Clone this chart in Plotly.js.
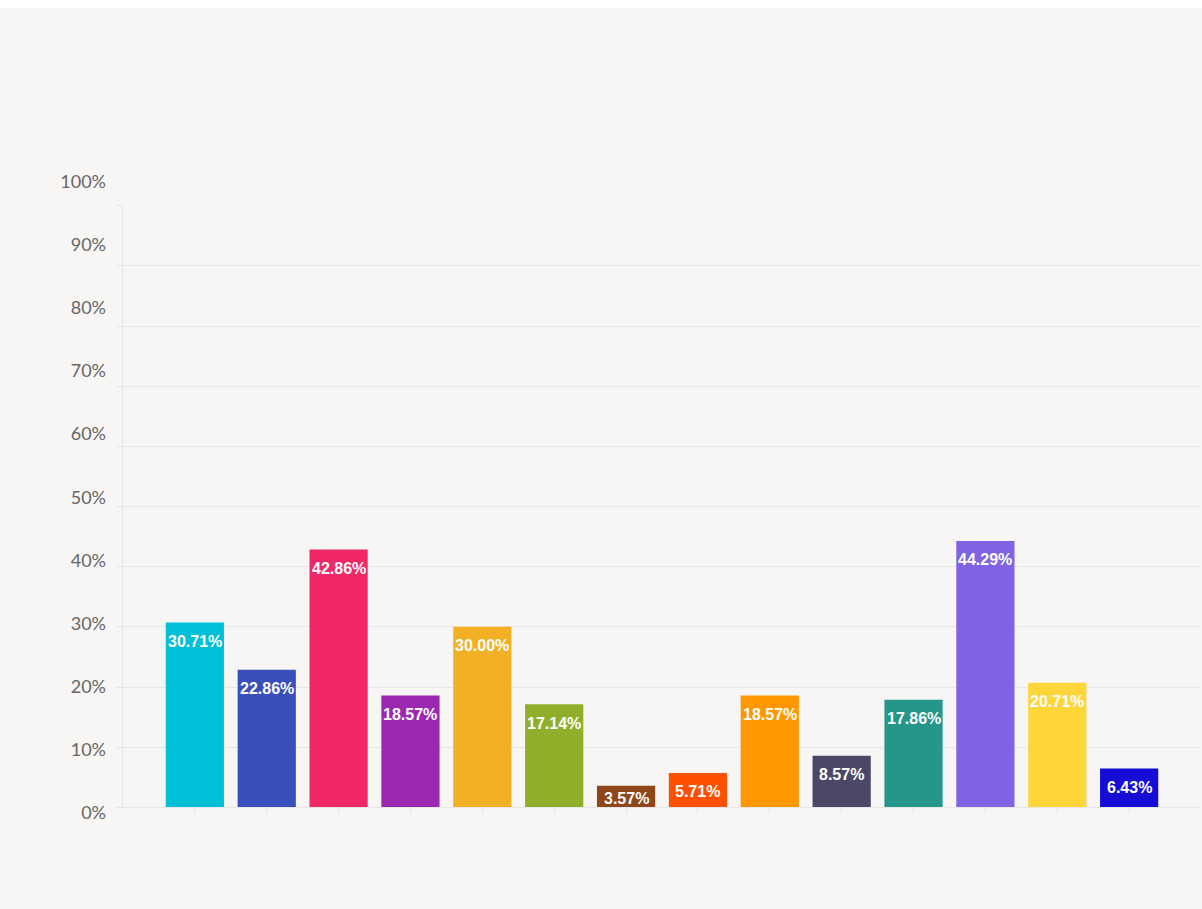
<!DOCTYPE html>
<html>
<head>
<meta charset="utf-8">
<script src="https://cdn.plot.ly/plotly-3.0.1.min.js"></script>
<style>
  html, body { margin: 0; padding: 0; background: #ffffff; }
  #chart { margin-top: 8px; width: 1202px; height: 901px; }
</style>
</head>
<body>
<div id="chart"></div>
<script>
// ---- data ----
const categories = ["1","2","3","4","5","6","7","8","9","10","11","12","13","14"];
const values = [30.71, 22.86, 42.86, 18.57, 30.00, 17.14, 3.57, 5.71, 18.57, 8.57, 17.86, 44.29, 20.71, 6.43];
const barColors = ["#00c0d8","#3b4fbc","#f02866","#9c27b0","#f2b124","#8faf2a","#8e461a","#ff5000","#ff9800","#4a4866","#26968a","#8062e3","#ffd63a","#150dd6"];
const yTickValues = [0,10,20,30,40,50,60,70,80,90,100];
const yTickLabels = ["0%","10%","20%","30%","40%","50%","60%","70%","80%","90%","100%"];

// ---- layout geometry ----
const DIV_H = 901, MT = 170, MB = 91;
const plotH = DIV_H - MT - MB;       // 640
const plotBottom = DIV_H - MB;       // 810 (div coords)
const zeroPx = 799.3, hundredPx = 197.8;       // grid positions
const lab0Px = 804.7, lab100Px = 173.7;        // label positions
const d0 = (plotBottom - zeroPx) / plotH, d1 = (plotBottom - hundredPx) / plotH;
const R2 = 100 * plotH / (lab0Px - lab100Px);
const r0 = -(plotBottom - lab0Px) * R2 / plotH;
const pxPerUnit = (zeroPx - hundredPx) / 100;

const grid = "#e8e7e5";

// annotation x on a category axis is the category index
const annotations = values.map((v, i) => {
  const hpx = v * pxPerUnit;
  const off = Math.min(19, hpx - 9);
  return {
    x: categories.indexOf(categories[i]), y: v, xref: "x", yref: "y",
    text: "<b>" + v.toFixed(2) + "%</b>",
    showarrow: false, yanchor: "middle", xanchor: "center",
    yshift: -off,
    font: { family: "Liberation Sans, Arial, sans-serif", size: 16, color: "#ffffff" }
  };
});

const data = [
  {
    type: "bar", x: categories, y: values,
    marker: { color: barColors, line: { width: 0 } },
    hoverinfo: "none", showlegend: false
  },
  { type: "scatter", x: [], y: [], yaxis: "y2", hoverinfo: "skip", showlegend: false }
];

const layout = {
  width: 1202, height: DIV_H,
  margin: { l: 123, r: 1, t: MT, b: MB, pad: 0 },
  paper_bgcolor: "#f7f6f4",
  plot_bgcolor: "rgba(0,0,0,0)",
  bargap: 0.19,
  showlegend: false,
  xaxis: {
    type: "category", range: [-1, 14],
    showticklabels: false, showgrid: false, zeroline: false,
    showline: true, linecolor: grid, linewidth: 1,
    ticks: "outside", ticklen: 5, tickcolor: grid, tickwidth: 1,
    anchor: "y", fixedrange: true
  },
  yaxis: {
    domain: [d0, d1], range: [0, 100],
    tickvals: yTickValues, showticklabels: false,
    showgrid: true, gridcolor: grid, gridwidth: 1, zeroline: false,
    showline: true, linecolor: grid, linewidth: 1,
    ticks: "outside", ticklen: 6, tickcolor: grid,
    anchor: "x", fixedrange: true
  },
  yaxis2: {
    domain: [0, 1], range: [r0, r0 + R2], anchor: "x",
    tickvals: yTickValues, ticktext: yTickLabels,
    showgrid: false, zeroline: false, showline: false, ticks: "",
    ticklabelstandoff: 16,
    tickfont: { family: "Lato, 'Open Sans', sans-serif", size: 18, color: "#666666" },
    fixedrange: true
  },
  annotations: annotations
};

Plotly.newPlot("chart", data, layout, { displayModeBar: false, staticPlot: true });
</script>
</body>
</html>
